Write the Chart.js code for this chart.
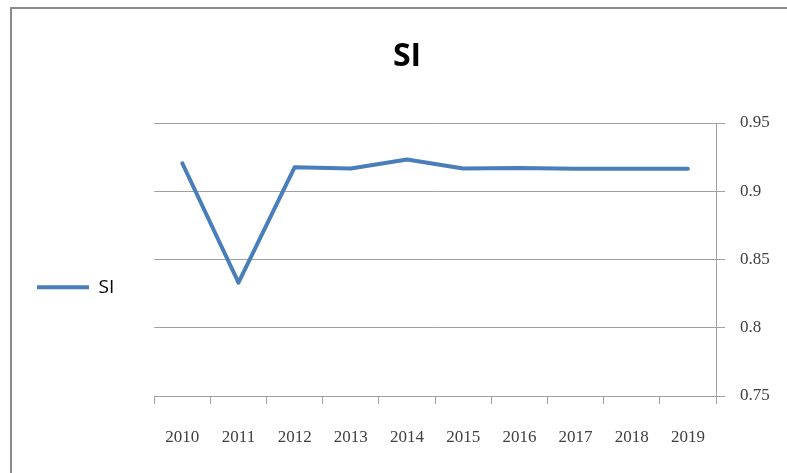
<!DOCTYPE html>
<html>
<head>
<meta charset="utf-8">
<script src="https://cdn.jsdelivr.net/npm/chart.js@4.4.0/dist/chart.umd.min.js"></script>
<style>
    html, body { margin: 0; padding: 0; background: #ffffff; overflow: hidden; }
    body { width: 787px; height: 473px; position: relative; }
    #frame {
        position: absolute;
        left: 10px;
        top: 7px;
        width: 790px;
        height: 470px;
        border: 2px solid #8c8c8c;
    }
</style>
</head>
<body>
<div id="frame">
    <canvas id="siChart" width="790" height="470"></canvas>
</div>
<script>
// DATA
const years = ['2010', '2011', '2012', '2013', '2014', '2015', '2016', '2017', '2018', '2019'];
const siValues = [0.9205, 0.833, 0.9176, 0.9166, 0.9232, 0.9166, 0.917, 0.9164, 0.9164, 0.9164];
const yTicks = [0.75, 0.8, 0.85, 0.9, 0.95];

const axisFont = { family: '"Liberation Serif", serif', size: 17 };
const gridColor = '#a0a0a0';

const ctx = document.getElementById('siChart');

new Chart(ctx, {
    type: 'line',

    data: {
        labels: years,
        datasets: [
            {
                label: 'SI',
                data: siValues,
                xAxisID: 'x',
                yAxisID: 'y',
                borderColor: '#4a7ebb',
                backgroundColor: '#4a7ebb',
                borderWidth: 4,
                borderCapStyle: 'round',
                borderJoinStyle: 'round',
                tension: 0,
                pointRadius: 0,
                fill: false
            }
        ]
    },

    options: {
        responsive: false,
        animation: false,
        layout: {
            padding: 0
        },

        plugins: {
            title: {
                display: true,
                text: 'SI',
                color: '#000000',
                font: { family: '"Open Sans", sans-serif', size: 32, weight: 'bold' },
                padding: { top: 29, bottom: 46.6 }
            },
            legend: {
                display: true,
                position: 'left',
                title: {
                    display: true,
                    text: ' ',
                    font: { size: 12 },
                    padding: { top: 72, bottom: 0 }
                },
                labels: {
                    usePointStyle: true,
                    pointStyle: 'line',
                    pointStyleWidth: 52,
                    padding: 25,
                    color: '#000000',
                    font: { family: '"Open Sans", sans-serif', size: 19 }
                }
            },
            tooltip: { enabled: false }
        },

        scales: {
            // empty spacer so the plot starts where the legend column ends
            pad: {
                type: 'linear',
                position: 'left',
                display: true,
                grid: { display: false },
                border: { display: false },
                ticks: { display: false },
                afterFit: function(scale) {
                    scale.width = 30;
                }
            },
            x: {
                offset: true,
                grid: {
                    display: true,
                    drawOnChartArea: false,
                    drawTicks: true,
                    tickLength: 8,
                    color: gridColor,
                    offset: true
                },
                border: { display: true, color: gridColor, width: 1 },
                ticks: {
                    color: '#404040',
                    font: axisFont,
                    padding: 23,
                    maxRotation: 0
                },
                afterFit: function(scale) {
                    scale.height = 83;
                }
            },
            y: {
                position: 'right',
                min: 0.75,
                max: 0.95,
                afterBuildTicks: function(scale) {
                    scale.ticks = yTicks.map(v => ({ value: v }));
                },
                grid: {
                    color: gridColor,
                    tickLength: 9
                },
                border: { display: true, color: gridColor, width: 1 },
                ticks: {
                    color: '#404040',
                    font: axisFont,
                    padding: 15,
                    callback: function(value) {
                        return String(value);
                    }
                },
                afterFit: function(scale) {
                    scale.width = 86;
                }
            }
        }
    }
});
</script>
</body>
</html>
